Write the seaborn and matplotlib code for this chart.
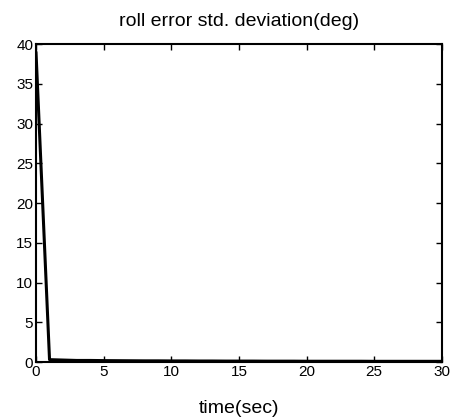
import matplotlib
matplotlib.use("Agg")
import matplotlib.pyplot as plt
import seaborn as sns
import pandas as pd

time_sec = [0, 1, 2, 3, 4, 5, 6, 7, 8, 9, 10, 11, 12, 13, 14, 15, 16, 17, 18, 19, 20,
            21, 22, 23, 24, 25, 26, 27, 28, 29, 30]
roll_std = [39.0, 0.3, 0.25, 0.2, 0.2, 0.18, 0.17, 0.16, 0.15, 0.15, 0.14, 0.14, 0.13,
            0.13, 0.12, 0.12, 0.12, 0.11, 0.11, 0.11, 0.1, 0.1, 0.1, 0.1, 0.1, 0.09,
            0.09, 0.09, 0.09, 0.09, 0.09]
x_ticks = [0, 5, 10, 15, 20, 25, 30]
y_ticks = [0, 5, 10, 15, 20, 25, 30, 35, 40]

df = pd.DataFrame({"time": time_sec, "std": roll_std})

sns.set_style("ticks")
plt.rcParams["font.family"] = ["Liberation Sans", "DejaVu Sans"]
plt.rcParams["text.color"] = "black"
plt.rcParams["axes.labelcolor"] = "black"

fig = plt.figure(figsize=(4.5, 4.2), dpi=100)
ax = fig.add_axes([0.08, 0.138, 0.902, 0.757])
sns.lineplot(data=df, x="time", y="std", ax=ax, color="black", linewidth=2.2)
ax.set_xlim(0, 30)
ax.set_ylim(0, 40)
ax.set_xticks(x_ticks)
ax.set_yticks(y_ticks)
ax.tick_params(direction="in", top=True, right=True, length=4, width=1,
               labelsize=11, pad=2, colors="black")
for s in ax.spines.values():
    s.set_linewidth(1.5)
    s.set_color("black")
ax.set_title("roll error std. deviation(deg)", fontsize=14, pad=13, color="black")
ax.set_xlabel("time(sec)", fontsize=14, labelpad=15, color="black")
ax.set_ylabel("")
fig.savefig("out.png", dpi=100)
